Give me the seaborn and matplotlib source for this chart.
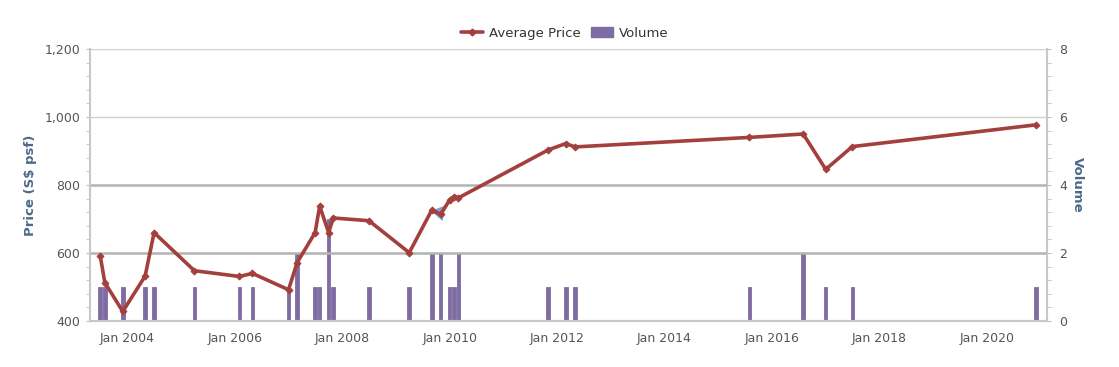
import matplotlib
matplotlib.use("Agg")
import matplotlib.pyplot as plt
import matplotlib.dates as mdates
from matplotlib.ticker import FuncFormatter, MultipleLocator
from matplotlib.lines import Line2D
from matplotlib.patches import Patch
import seaborn as sns
import pandas as pd

# Monthly transactions (first of month)
months = ["2003-07", "2003-08", "2003-12", "2004-05", "2004-07", "2005-04",
          "2006-02", "2006-05", "2007-01", "2007-03", "2007-07", "2007-08",
          "2007-10", "2007-11", "2008-07", "2009-04", "2009-09", "2009-11",
          "2010-01", "2010-02", "2010-03", "2011-11", "2012-03", "2012-05",
          "2015-08", "2016-08", "2017-01", "2017-07", "2020-12"]

avg_price = [591, 513, 428, 532, 660, 548,
             531, 540, 492, 572, 660, 738,
             660, 703, 695, 601, 726, 714,
             756, 766, 762, 903, 922, 912,
             940, 950, 846, 913, 977]

volume = [1, 1, 1, 1, 1, 1,
          1, 1, 1, 2, 1, 1,
          3, 1, 1, 1, 2, 2,
          1, 1, 2, 1, 1, 1,
          1, 2, 1, 1, 1]

tick_years = [2004, 2006, 2008, 2010, 2012, 2014, 2016, 2018, 2020]

# Colours
line_color = "#a3403d"
bar_color = "#7f6ca3"
title_color = "#4d6a8a"
text_color = "#555555"

df = pd.DataFrame({
    "month": pd.to_datetime(months),
    "price": avg_price,
    "volume": volume,
})

sns.set_style("white")
plt.rcParams["font.family"] = ["DejaVu Sans"]

fig = plt.figure(figsize = (11.19, 3.67), dpi = 100)
ax = fig.add_axes([0.0804, 0.1253, 0.8553, 0.7412])
ax2 = ax.twinx()

# Volume bars on the right axis
ax2.bar(df["month"], df["volume"], width = 24, color = bar_color,
        edgecolor = bar_color, linewidth = 0.6, zorder = 2)
ax2.set_ylim(0, 8)

# Price line on the left axis, drawn above the bars
ax.set_zorder(ax2.get_zorder() + 1)
ax.patch.set_visible(False)
sns.lineplot(data = df, x = "month", y = "price", ax = ax, color = line_color,
             linewidth = 2.6, marker = "D", markersize = 3.5,
             markeredgecolor = line_color)

# Highlighted point
hl = df.iloc[[17]]
ax.scatter(hl["month"] - pd.Timedelta(days = 15), hl["price"] + 8,
           marker = (3, 0, 200), s = 170, color = "#6f97c8", alpha = 0.9,
           zorder = 1, linewidths = 0)

ax.set_ylim(400, 1200)
ax.set_xlim(pd.Timestamp("2003-04-22"), pd.Timestamp("2021-02-14"))

# Grid lines
for v in [1000, 1200]:
    ax.axhline(v, color = "#d0d0d0", linewidth = 1, zorder = 0)
for v in [600, 800]:
    ax.axhline(v, color = "#b3b3b3", linewidth = 1.8, zorder = 0)

# Ticks
ax.yaxis.set_major_locator(MultipleLocator(200))
ax.yaxis.set_minor_locator(MultipleLocator(40))
ax.yaxis.set_major_formatter(FuncFormatter(lambda v, p: f"{int(v):,}"))
ax2.yaxis.set_major_locator(MultipleLocator(2))
ax2.yaxis.set_minor_locator(MultipleLocator(0.4))

ax.set_xticks([pd.Timestamp(f"{y}-01-01") for y in tick_years])
ax.xaxis.set_major_formatter(mdates.DateFormatter("Jan %Y"))

ax.tick_params(axis = "y", which = "both", direction = "out", length = 3,
               color = "#c0c0c0", labelsize = 9, labelcolor = text_color, pad = 4)
ax2.tick_params(axis = "y", which = "both", direction = "out", length = 3,
                color = "#c0c0c0", labelsize = 9, labelcolor = text_color, pad = 6)
ax.tick_params(axis = "x", direction = "out", length = 5, color = "#c0c0c0",
               labelsize = 9, labelcolor = text_color, pad = 3)

ax.set_xlabel("")
ax.set_ylabel("Price (S$ psf)", color = title_color, fontsize = 9.5,
              fontweight = "bold", labelpad = 5)
ax2.set_ylabel("Volume", color = title_color, fontsize = 9.5,
               fontweight = "bold", rotation = 270, labelpad = 12)

# Spines
for a in [ax, ax2]:
    a.spines["top"].set_visible(False)
    for s in ["left", "right", "bottom"]:
        a.spines[s].set_color("#c8c8c8")
        a.spines[s].set_linewidth(1.5)
ax.spines["right"].set_visible(False)
ax2.spines["left"].set_visible(False)

# Legend at the top
handles = [
    Line2D([0], [0], color = line_color, linewidth = 2.6, marker = "D",
           markersize = 3.5),
    Patch(facecolor = bar_color, edgecolor = bar_color),
]
fig.legend(handles, ["Average Price", "Volume"], loc = "upper center",
           bbox_to_anchor = (0.505, 0.96), ncol = 2, frameon = False,
           fontsize = 9.5, labelcolor = "#333333", handlelength = 1.6,
           columnspacing = 0.8, handletextpad = 0.5)

fig.savefig("out.png", dpi = 100)
